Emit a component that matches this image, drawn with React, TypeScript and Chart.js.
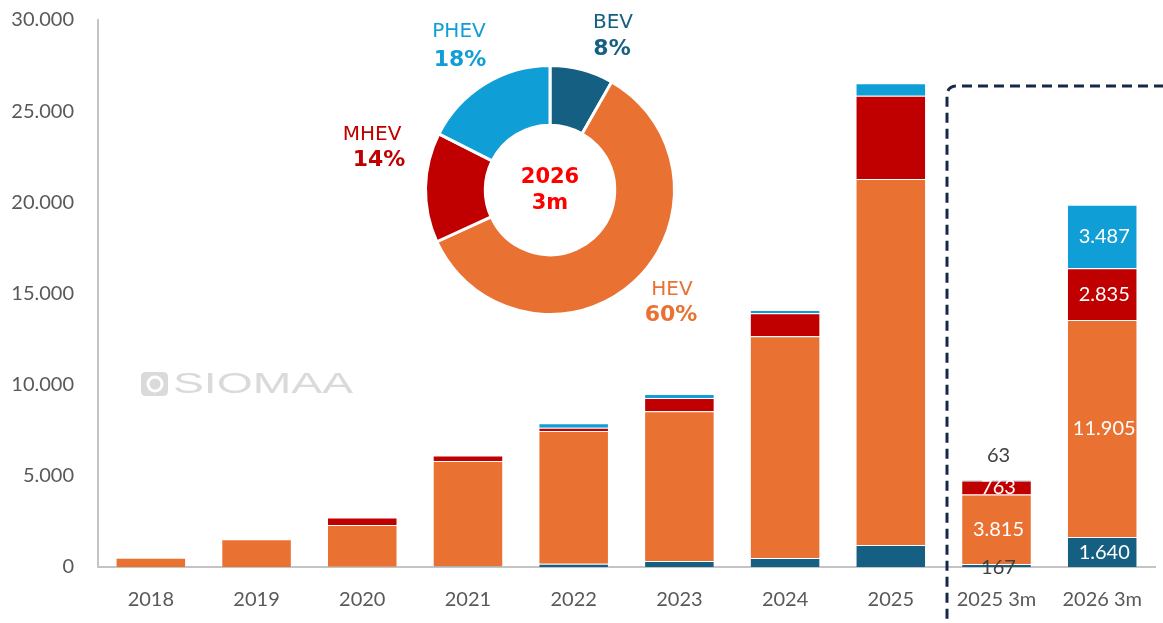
import React, { useEffect, useRef } from "react";
import { Chart, registerables } from "chart.js";

Chart.register(...registerables);

const categories = ["2018", "2019", "2020", "2021", "2022", "2023", "2024", "2025", "2025 3m", "2026 3m"];
const bevValues = [0, 0, 10, 40, 180, 330, 500, 1200, 167, 1640];
const hevValues = [510, 1520, 2290, 5780, 7280, 8210, 12150, 20080, 3815, 11905];
const mhevValues = [0, 0, 410, 290, 180, 730, 1260, 4570, 763, 2835];
const phevValues = [0, 0, 20, 20, 240, 220, 180, 680, 63, 3487];
const yTickValues = [0, 5000, 10000, 15000, 20000, 25000, 30000];
const seriesNames = ["BEV", "HEV", "MHEV", "PHEV"];
const pieCenterLines = ["2026", "3m"];
const labelledCategories = ["2025 3m", "2026 3m"];
const watermarkText = "SIOMAA";

const COLORS = ["#156082", "#E97132", "#C00000", "#0F9ED5"];
const TICK_FONT = "Lato";
const PIE_FONT = "DejaVu Sans";

function fmt(n: number): string {
  return String(Math.round(n)).replace(/\B(?=(\d{3})+(?!\d))/g, ".");
}

const seriesValues = [bevValues, hevValues, mhevValues, phevValues];

export default function App() {
  const barRef = useRef<HTMLCanvasElement | null>(null);
  const pieRef = useRef<HTMLCanvasElement | null>(null);

  useEffect(() => {
    if (!barRef.current || !pieRef.current) return;

    const barLabelPlugin = {
      id: "barLabels",
      beforeDatasetsDraw(chart: any) {
        const ctx = chart.ctx;
        ctx.save();
        // watermark
        ctx.fillStyle = "#dadada";
        const ix = 141, iy = 372, iw = 27, ih = 24, r = 5;
        ctx.beginPath();
        ctx.moveTo(ix + r, iy);
        ctx.lineTo(ix + iw - r, iy);
        ctx.quadraticCurveTo(ix + iw, iy, ix + iw, iy + r);
        ctx.lineTo(ix + iw, iy + ih - r);
        ctx.quadraticCurveTo(ix + iw, iy + ih, ix + iw - r, iy + ih);
        ctx.lineTo(ix + r, iy + ih);
        ctx.quadraticCurveTo(ix, iy + ih, ix, iy + ih - r);
        ctx.lineTo(ix, iy + r);
        ctx.quadraticCurveTo(ix, iy, ix + r, iy);
        ctx.fill();
        ctx.strokeStyle = "#ffffff";
        ctx.lineWidth = 3;
        ctx.beginPath();
        ctx.arc(ix + 14, iy + 12, 7, 0, Math.PI * 2);
        ctx.stroke();
        ctx.fillStyle = "#dadada";
        ctx.beginPath();
        ctx.arc(ix + 13, iy + 12, 3.5, 0, Math.PI * 2);
        ctx.fill();
        ctx.font = "29px 'Liberation Sans'";
        ctx.textBaseline = "alphabetic";
        ctx.textAlign = "left";
        const w = ctx.measureText(watermarkText).width;
        ctx.translate(173, 393);
        ctx.scale(180 / w, 1);
        ctx.fillText(watermarkText, 0, 0);
        ctx.restore();
      },
      afterDatasetsDraw(chart: any) {
        const ctx = chart.ctx;
        ctx.save();
        ctx.font = `20px ${TICK_FONT}`;
        ctx.textAlign = "center";
        ctx.textBaseline = "middle";
        labelledCategories.forEach((cat) => {
          const idx = categories.indexOf(cat);
          const isFirst = cat === labelledCategories[0];
          seriesValues.forEach((vals, d) => {
            const el = chart.getDatasetMeta(d).data[idx];
            if (!el) return;
            const v = vals[idx];
            let y = (el.y + el.base) / 2;
            let color = "#ffffff";
            if (isFirst && d === 3) {
              y = el.y - 24;
              color = "#404040";
            } else if (isFirst && d === 0) {
              y = el.base + 1;
              color = "#404040";
            }
            ctx.fillStyle = color;
            ctx.fillText(fmt(v), el.x + 2, y);
          });
        });
        ctx.restore();
      },
      afterDraw(chart: any) {
        const ctx = chart.ctx;
        ctx.save();
        ctx.strokeStyle = "#172849";
        ctx.lineWidth = 3;
        ctx.setLineDash([10, 6]);
        const x0 = 947, y0 = 86, x1 = 1180, y1 = 630, r = 10;
        ctx.beginPath();
        ctx.moveTo(x1, y0);
        ctx.lineTo(x0 + r, y0);
        ctx.quadraticCurveTo(x0, y0, x0, y0 + r);
        ctx.lineTo(x0, y1 - r);
        ctx.quadraticCurveTo(x0, y1, x0 + r, y1);
        ctx.lineTo(x1, y1);
        ctx.stroke();
        ctx.restore();
      },
    };

    const barChart = new Chart(barRef.current, {
      type: "bar",
      data: {
        labels: categories,
        datasets: seriesNames.map((name, i) => ({
          label: name,
          data: seriesValues[i],
          backgroundColor: COLORS[i],
          borderColor: "rgba(255,255,255,0.35)",
          borderWidth: 1,
          categoryPercentage: 1,
          barPercentage: 0.667,
        })),
      },
      options: {
        animation: false,
        responsive: false,
        maintainAspectRatio: false,
        layout: { padding: { top: 20, left: 0, right: 0, bottom: 0 } },
        plugins: { legend: { display: false }, tooltip: { enabled: false } },
        scales: {
          x: {
            stacked: true,
            grid: { display: false, drawTicks: false },
            border: { display: true, color: "#C4C4C4", width: 2 },
            ticks: {
              font: { family: TICK_FONT, size: 20 },
              color: "#595959",
              padding: 21,
              maxRotation: 0,
              autoSkip: false,
            },
            afterFit: (s: any) => {
              s.height = 56;
            },
          },
          y: {
            stacked: true,
            min: 0,
            max: 30000,
            afterBuildTicks: (s: any) => {
              s.ticks = yTickValues.map((v) => ({ value: v }));
            },
            ticks: {
              font: { family: TICK_FONT, size: 20 },
              color: "#595959",
              padding: 24,
              callback: (v: any) => fmt(Number(v)),
            },
            grid: { display: false, drawTicks: false },
            border: { display: true, color: "#C4C4C4", width: 2 },
            afterFit: (s: any) => {
              s.width = 98;
              s.paddingTop = 10;
              s.paddingBottom = 10;
            },
          },
        },
      },
      plugins: [barLabelPlugin],
    } as any);

    const pieIdx = categories.length - 1;
    const pieValues = seriesValues.map((vals) => vals[pieIdx]);
    const pieTotal = pieValues.reduce((a, b) => a + b, 0);
    const pieLabelPos = [
      { x: 283, y: 23, px: 282, py: 49 },
      { x: 342, y: 290, px: 341, py: 315 },
      { x: 42, y: 135, px: 49, py: 160 },
      { x: 129, y: 32, px: 130, py: 60 },
    ];

    const pieLabelPlugin = {
      id: "pieLabels",
      afterDraw(chart: any) {
        const ctx = chart.ctx;
        ctx.save();
        ctx.textAlign = "center";
        ctx.textBaseline = "middle";
        seriesNames.forEach((name, i) => {
          const p = pieLabelPos[i];
          ctx.fillStyle = COLORS[i];
          ctx.font = `20px '${PIE_FONT}'`;
          ctx.fillText(name, p.x, p.y);
          ctx.font = `bold 22px '${PIE_FONT}'`;
          ctx.fillText(Math.round((pieValues[i] / pieTotal) * 100) + "%", p.px, p.py);
        });
        ctx.fillStyle = "#FF0000";
        ctx.font = `bold 21px '${PIE_FONT}'`;
        ctx.fillText(pieCenterLines[0], 220, 178);
        ctx.fillText(pieCenterLines[1], 220, 204);
        ctx.restore();
      },
    };

    const pieChart = new Chart(pieRef.current, {
      type: "doughnut",
      data: {
        labels: seriesNames,
        datasets: [
          {
            data: pieValues,
            backgroundColor: COLORS,
            borderColor: "#ffffff",
            borderWidth: 3,
          },
        ],
      },
      options: {
        animation: false,
        responsive: false,
        maintainAspectRatio: false,
        cutout: "52%",
        layout: { padding: { left: 94, right: 54, top: 64, bottom: 24 } },
        plugins: { legend: { display: false }, tooltip: { enabled: false } },
      },
      plugins: [pieLabelPlugin],
    } as any);

    return () => {
      barChart.destroy();
      pieChart.destroy();
    };
  }, []);

  return (
    <div style={{ position: "fixed", left: 0, top: 0, width: 1163, height: 623, background: "#ffffff", overflow: "hidden" }}>
      <canvas
        ref={barRef}
        width={1163}
        height={623}
        style={{ position: "absolute", left: 0, top: 0, width: 1163, height: 623 }}
      />
      <canvas
        ref={pieRef}
        width={400}
        height={340}
        style={{ position: "absolute", left: 330, top: 0, width: 400, height: 340 }}
      />
    </div>
  );
}
